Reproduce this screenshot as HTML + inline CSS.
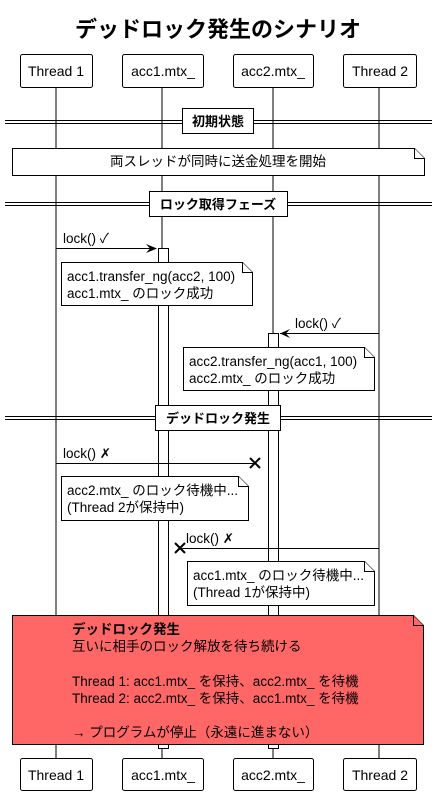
<!DOCTYPE html>
<html><head><meta charset="utf-8"><style>
html,body{margin:0;padding:0;background:#fff}
svg{display:block}
text{font-family:"Liberation Sans","Noto Sans CJK JP",sans-serif;font-size:13.5px;fill:#000}
.b{font-weight:bold}
.h{font-size:14px}
</style></head><body>
<svg width="437" height="795" viewBox="0 0 437 795" xmlns="http://www.w3.org/2000/svg">
<text x="218" y="37" text-anchor="middle" class="b" style="font-size:22px">デッドロック発生のシナリオ</text>
<g stroke="#000" stroke-width="1" fill="none">
<line x1="56" y1="87" x2="56" y2="758"/>
<line x1="162" y1="87" x2="162" y2="758"/>
<line x1="273" y1="87" x2="273" y2="758"/>
<line x1="379" y1="87" x2="379" y2="758"/>
</g>
<g stroke="#000" fill="#fff">
<rect x="158.5" y="248.5" width="10" height="500"/>
<rect x="268.5" y="333.5" width="10" height="415"/>
</g>
<g stroke="#000" fill="#fff">
<rect x="20.5" y="54.5" width="72" height="33" rx="2"/>
<rect x="122.5" y="54.5" width="81" height="33" rx="2"/>
<rect x="233.5" y="54.5" width="80" height="33" rx="2"/>
<rect x="343.5" y="54.5" width="73" height="33" rx="2"/>
<rect x="20.5" y="758.5" width="72" height="32" rx="2"/>
<rect x="122.5" y="758.5" width="81" height="32" rx="2"/>
<rect x="233.5" y="758.5" width="80" height="32" rx="2"/>
<rect x="343.5" y="758.5" width="73" height="32" rx="2"/>
</g>
<g text-anchor="middle">
<text x="56" y="76" class="h">Thread 1</text>
<text x="163" y="76" class="h">acc1.mtx_</text>
<text x="273" y="76" class="h">acc2.mtx_</text>
<text x="380" y="76" class="h">Thread 2</text>
<text x="56" y="780" class="h">Thread 1</text>
<text x="163" y="780" class="h">acc1.mtx_</text>
<text x="273" y="780" class="h">acc2.mtx_</text>
<text x="380" y="780" class="h">Thread 2</text>
</g>
<g stroke="#000">
<line x1="5" y1="120.5" x2="432" y2="120.5"/><line x1="5" y1="123.5" x2="432" y2="123.5"/>
<line x1="5" y1="202.5" x2="432" y2="202.5"/><line x1="5" y1="205.5" x2="432" y2="205.5"/>
<line x1="5" y1="416.5" x2="432" y2="416.5"/><line x1="5" y1="419.5" x2="432" y2="419.5"/>
</g>
<g stroke="#000" fill="#fff">
<rect x="182.5" y="108.5" width="71" height="25"/>
<rect x="149.5" y="191.5" width="138" height="25"/>
<rect x="155.5" y="405.5" width="125" height="25"/>
</g>
<text x="218" y="126" text-anchor="middle" class="b" style="font-size:13px">初期状態</text>
<text x="218" y="209" text-anchor="middle" class="b" style="font-size:13px">ロック取得フェーズ</text>
<text x="218" y="423" text-anchor="middle" class="b" style="font-size:13px">デッドロック発生</text>
<g stroke="#000" fill="#fff">
<path d="M12.5,148.5 H414.5 L424.5,158.5 V175.5 H12.5 Z"/><path d="M414.5,148.5 V158.5 H424.5"/>
<path d="M61.5,262.5 H242.5 L252.5,272.5 V305.5 H61.5 Z"/><path d="M242.5,262.5 V272.5 H252.5"/>
<path d="M183.5,347.5 H364.5 L374.5,357.5 V390.5 H183.5 Z"/><path d="M364.5,347.5 V357.5 H374.5"/>
<path d="M61.5,476.5 H238.5 L248.5,486.5 V520.5 H61.5 Z"/><path d="M238.5,476.5 V486.5 H248.5"/>
<path d="M187.5,561.5 H364.5 L374.5,571.5 V605.5 H187.5 Z"/><path d="M364.5,561.5 V571.5 H374.5"/>
<path d="M12.5,615.5 H413.5 L423.5,625.5 V744.5 H12.5 Z" fill="#FF6666"/><path d="M413.5,615.5 V625.5 H423.5" fill="#FF6666"/>
</g>
<text x="218" y="166" text-anchor="middle">両スレッドが同時に送金処理を開始</text>
<text x="67" y="281">acc1.transfer_ng(acc2, 100)</text>
<text x="67" y="298">acc1.mtx_ のロック成功</text>
<text x="189" y="366">acc2.transfer_ng(acc1, 100)</text>
<text x="189" y="383">acc2.mtx_ のロック成功</text>
<text x="67" y="495">acc2.mtx_ のロック待機中...</text>
<text x="67" y="512">(Thread 2が保持中)</text>
<text x="193" y="580">acc1.mtx_ のロック待機中...</text>
<text x="193" y="597">(Thread 1が保持中)</text>
<text x="72" y="634" class="b">デッドロック発生</text>
<text x="72" y="651">互いに相手のロック解放を待ち続ける</text>
<text x="72" y="686">Thread 1: acc1.mtx_ を保持、acc2.mtx_ を待機</text>
<text x="72" y="703">Thread 2: acc2.mtx_ を保持、acc1.mtx_ を待機</text>
<text x="72" y="737">→ プログラムが停止（永遠に進まない）</text>
<g stroke="#000" fill="none">
<line x1="56" y1="248.5" x2="156" y2="248.5"/>
<line x1="379" y1="333.5" x2="280" y2="333.5"/>
<line x1="56" y1="463.5" x2="255" y2="463.5"/>
<line x1="379" y1="548.5" x2="180" y2="548.5"/>
<g stroke-width="2"><line x1="250" y1="458" x2="260" y2="468"/><line x1="260" y1="458" x2="250" y2="468"/>
<line x1="175" y1="543" x2="185" y2="553"/><line x1="185" y1="543" x2="175" y2="553"/></g>
</g>
<path d="M146,244 L157,248.5 L146,253 L150,248.5 Z" fill="#000"/>
<path d="M290,329 L280,333.5 L290,338 L286,333.5 Z" fill="#000"/>
<text x="63" y="243">lock() ✓</text>
<text x="295" y="328">lock() ✓</text>
<text x="63" y="458">lock() ✗</text>
<text x="186" y="543">lock() ✗</text>
</svg>
</body></html>
